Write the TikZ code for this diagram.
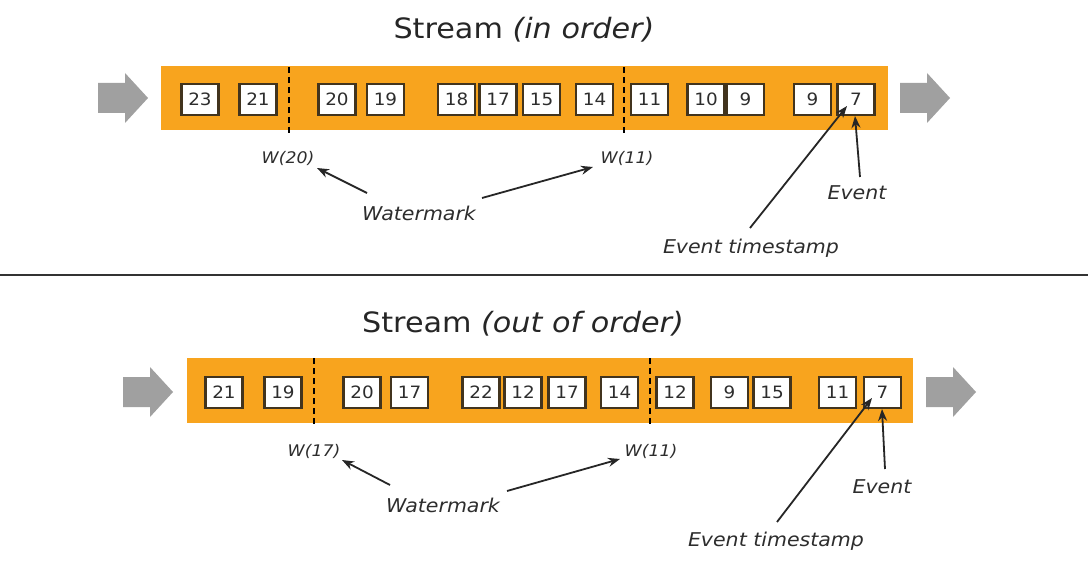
\documentclass[tikz,border=0pt]{standalone}
\usepackage{fontspec}
\setmainfont{DejaVu Sans}[FakeStretch=1.08]
\usetikzlibrary{arrows.meta}
\definecolor{barorange}{RGB}{248,164,30}
\definecolor{boxedge}{RGB}{66,52,30}
\definecolor{txt}{RGB}{45,45,45}
\definecolor{flow}{RGB}{160,160,160}
\tikzset{
  ev/.style={draw=boxedge, line width=2.2pt, fill=white, minimum width=37pt, minimum height=31pt, inner sep=0pt, text=txt, font=\fontsize{17}{17}\selectfont},
  wm/.style={draw=black, line width=2.4pt, dash pattern=on 6pt off 4pt},
  lbl/.style={text=txt, font=\fontsize{19}{19}\selectfont\itshape, inner sep=0pt},
  wlbl/.style={text=txt, font=\fontsize{16}{16}\selectfont\itshape, inner sep=0pt},
  ttl/.style={text=black!85, font=\fontsize{28}{28}\selectfont, inner sep=0pt},
  ptr/.style={draw=black!85, line width=1.8pt, -{Stealth[length=12pt,width=9pt]}},
  bar/.style={fill=barorange, draw=none},
  flowarrow/.style={fill=flow, draw=none}
}
\begin{document}
\begin{tikzpicture}[x=1pt,y=-1pt]
\useasboundingbox (0,0) rectangle (1090,564);
\fill[white] (0,0) rectangle (1090,564);

% ---------- top panel ----------
\node[ttl] (t1) at (524,30) {Stream \textit{(in order)}};
\fill[bar] (161,66) rectangle (888,130);
\fill[flowarrow] (98,83) -- (125,83) -- (125,73) -- (148,98) -- (125,123) -- (125,113) -- (98,113) -- cycle;
\fill[flowarrow] (900,83) -- (927,83) -- (927,73) -- (950,98) -- (927,123) -- (927,113) -- (900,113) -- cycle;
\draw[wm] (289,67) -- (289,133);
\draw[wm] (624,67) -- (624,133);
\node[ev] (a1) at (200,99.5) {23};
\node[ev] (a2) at (258,99.5) {21};
\node[ev] (a3) at (337,99.5) {20};
\node[ev] (a4) at (385.5,99.5) {19};
\node[ev] (a5) at (456.5,99.5) {18};
\node[ev] (a6) at (498,99.5) {17};
\node[ev] (a7) at (541.5,99.5) {15};
\node[ev] (a8) at (594.5,99.5) {14};
\node[ev] (a9) at (649.5,99.5) {11};
\node[ev] (a10) at (706,99.5) {10};
\node[ev] (a11) at (745.5,99.5) {9};
\node[ev] (a12) at (812.5,99.5) {9};
\node[ev] (a13) at (856,99.5) {7};

\node[wlbl] (w20) at (288,158) {W(20)};
\node[wlbl] (w11a) at (627,158) {W(11)};
\node[lbl] (wma) at (419,213) {Watermark};
\node[lbl] (eva) at (857,193) {Event};
\node[lbl] (etsa) at (751,248) {Event timestamp};
\coordinate (wmaL) at (367,193);
\coordinate (wmaR) at (482,198);
\coordinate (w20tip) at (317,168);
\coordinate (w11atip) at (593,167);
\coordinate (evaS) at (860,177);
\coordinate (evaT) at (855,116);
\coordinate (etsaS) at (750,228);
\coordinate (etsaT) at (847,106);
\draw[ptr] (wmaL) -- (w20tip);
\draw[ptr] (wmaR) -- (w11atip);
\draw[ptr] (evaS) -- (evaT);
\draw[ptr] (etsaS) -- (etsaT);

% ---------- separator ----------
\draw[line width=1.6pt, black!80] (0,275) -- (1088,275);

% ---------- bottom panel ----------
\node[ttl] (t2) at (523,324) {Stream \textit{(out of order)}};
\fill[bar] (187,358) rectangle (913,423);
\fill[flowarrow] (123,377) -- (150,377) -- (150,367) -- (173,392) -- (150,417) -- (150,407) -- (123,407) -- cycle;
\fill[flowarrow] (926,377) -- (953,377) -- (953,367) -- (976,392) -- (953,417) -- (953,407) -- (926,407) -- cycle;
\draw[wm] (314,358) -- (314,426);
\draw[wm] (650,358) -- (650,426);
\node[ev] (b1) at (224,392.5) {21};
\node[ev] (b2) at (283,392.5) {19};
\node[ev] (b3) at (362,392.5) {20};
\node[ev] (b4) at (409.5,392.5) {17};
\node[ev] (b5) at (481,392.5) {22};
\node[ev] (b6) at (523,392.5) {12};
\node[ev] (b7) at (567,392.5) {17};
\node[ev] (b8) at (619.5,392.5) {14};
\node[ev] (b9) at (675,392.5) {12};
\node[ev] (b10) at (729.5,392.5) {9};
\node[ev] (b11) at (772,392.5) {15};
\node[ev] (b12) at (837.5,392.5) {11};
\node[ev] (b13) at (882.5,392.5) {7};

\node[wlbl] (w17) at (314,451) {W(17)};
\node[wlbl] (w11b) at (651,451) {W(11)};
\node[lbl] (wmb) at (443,505) {Watermark};
\node[lbl] (evb) at (882,487) {Event};
\node[lbl] (etsb) at (776,541) {Event timestamp};
\coordinate (wmbL) at (390,485);
\coordinate (wmbR) at (507,491);
\coordinate (w17tip) at (342,460);
\coordinate (w11btip) at (620,459);
\coordinate (evbS) at (885,469);
\coordinate (evbT) at (882,409);
\coordinate (etsbS) at (777,522);
\coordinate (etsbT) at (872,398);
\draw[ptr] (wmbL) -- (w17tip);
\draw[ptr] (wmbR) -- (w11btip);
\draw[ptr] (evbS) -- (evbT);
\draw[ptr] (etsbS) -- (etsbT);
\end{tikzpicture}
\end{document}
